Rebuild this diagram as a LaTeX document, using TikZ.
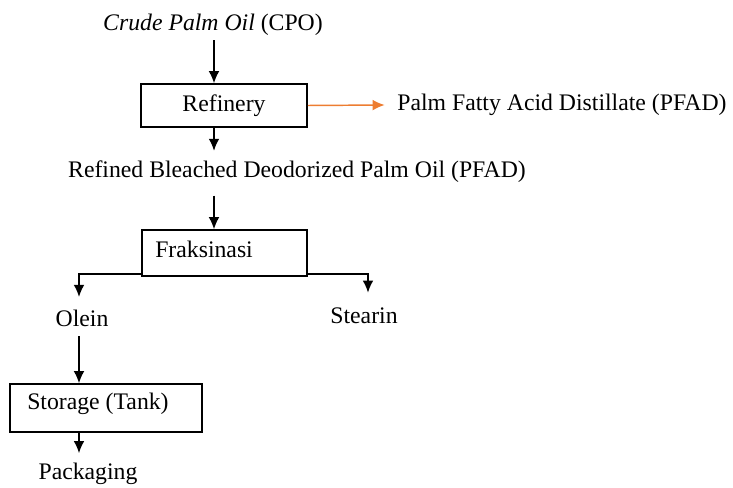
\documentclass[tikz,border=0pt]{standalone}
\usepackage{fontspec}
\setmainfont{Liberation Serif}
\usetikzlibrary{arrows.meta}
\definecolor{pfadorange}{RGB}{237,125,49}
\begin{document}
\begin{tikzpicture}[x=0.75pt,y=-0.75pt,font=\fontsize{17.8}{21}\selectfont,
  flow/.style={-{Latex[length=9pt,width=8pt]},line width=1.1pt},
  proc/.style={draw,line width=1.2pt,inner sep=0pt}]
  \useasboundingbox (0,0) rectangle (733,488);
  % products
  \node (cpo) at (213,25) {\textit{Crude Palm Oil} (CPO)};
  \node (pfad) at (562,105) {Palm Fatty Acid Distillate (PFAD)};
  \node (rbdpo) at (297,172) {Refined Bleached Deodorized Palm Oil (PFAD)};
  \node (olein) at (82,318) {Olein};
  \node (stearin) at (364,316) {Stearin};
  \node (pack) at (88,474) {Packaging};
  % process boxes
  \node[proc,minimum width=124.5pt,minimum height=32.25pt] (refinery) at (224,105.5) {Refinery};
  \node[proc,minimum width=123.75pt,minimum height=34.5pt] (frak) at (224.5,253) {};
  \node[anchor=west,inner sep=0pt] (fraktext) at (155,249) {Fraksinasi};
  \node[proc,minimum width=144pt,minimum height=36pt] (storage) at (106,408) {};
  \node[anchor=west,inner sep=0pt] (storetext) at (27,404) {Storage (Tank)};
  \coordinate (axis) at (214,0);
  \coordinate (lbranch) at (79,0);
  \coordinate (rbranch) at (368,0);
  % connectors
  \draw[flow] (cpo.south -| axis) -- (refinery.north -| axis);
  \draw[flow,color=pfadorange] (refinery.east) -- ([xshift=-6pt]pfad.west);
  \draw[flow] (refinery.south -| axis) -- ++(0,23);
  \draw[flow] (rbdpo.south -| axis) ++(0,8) -- (frak.north -| axis);
  \draw[flow] ([yshift=2pt]frak.south west) -| ([yshift=6pt]olein.north -| lbranch);
  \draw[flow] ([yshift=2pt]frak.south east) -| ([yshift=8pt]stearin.north -| rbranch);
  \draw[flow] ([yshift=-4pt]olein.south -| lbranch) -- (storage.north -| lbranch);
  \draw[flow] (storage.south -| lbranch) -- ([yshift=4pt]pack.north -| lbranch);
\end{tikzpicture}
\end{document}
